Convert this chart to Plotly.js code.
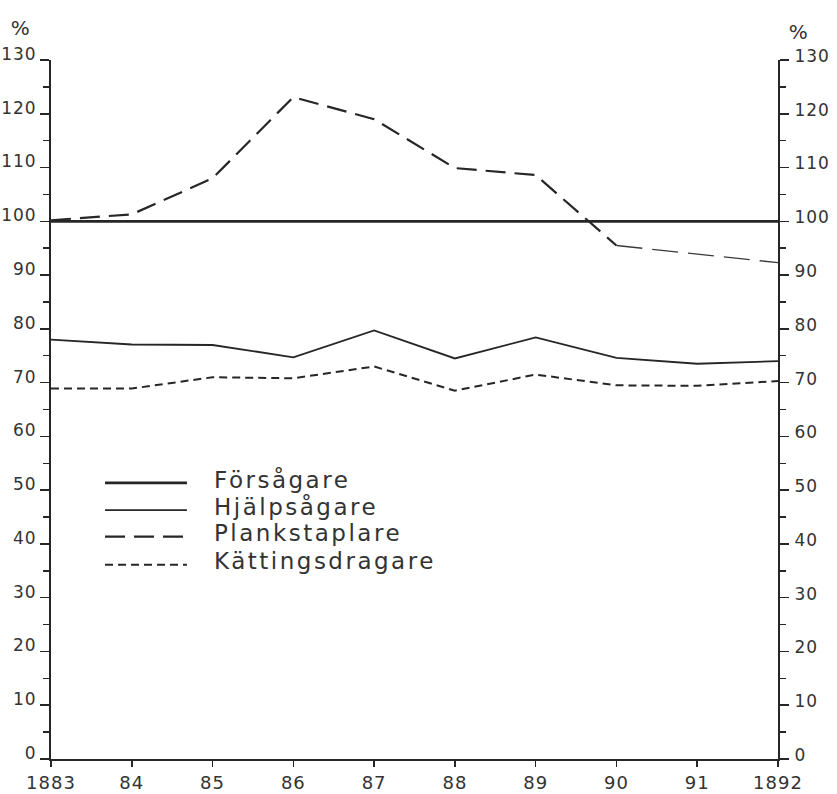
<!DOCTYPE html>
<html>
<head>
<meta charset="utf-8">
<script src="https://cdn.plot.ly/plotly-3.0.1.min.js"></script>
<style>
html,body{margin:0;padding:0;background:#fff;}
#chart{width:837px;height:794px;}
#chart .annotation-text{letter-spacing:2.5px;}
#chart .xtick text, #chart .ytick text, #chart .y2tick text{letter-spacing:1px;}
</style>
</head>
<body>
<div id="chart"></div>
<script>
const years = [1883, 1884, 1885, 1886, 1887, 1888, 1889, 1890, 1891, 1892];
const yearLabels = ["1883", "84", "85", "86", "87", "88", "89", "90", "91", "1892"];
const seriesNames = ["Försågare", "Hjälpsågare", "Plankstaplare", "Kättingsdragare"];
const forsagare = [100, 100, 100, 100, 100, 100, 100, 100, 100, 100];
const hjalpsagare = [78.0, 77.1, 77.0, 74.7, 79.7, 74.5, 78.4, 74.6, 73.5, 74.0];
const plankstaplare = [100.2, 101.3, 108.0, 123.1, 119.0, 109.9, 108.6, 95.5, 93.9, 92.3];
const kattingsdragare = [68.9, 68.9, 71.0, 70.8, 73.0, 68.5, 71.5, 69.5, 69.4, 70.3];
const yTicks = [0, 10, 20, 30, 40, 50, 60, 70, 80, 90, 100, 110, 120, 130];

const ink = "#262626";
const font = "DejaVu Sans, sans-serif";

const styles = [
  {width: 2.8, dash: "solid"},
  {width: 1.9, dash: "solid"},
  {width: 2.2, dash: "20px,9px"},
  {width: 2.0, dash: "8px,5px"}
];

const split = years.indexOf(1890);
const traces = [
  {x: years, y: forsagare, name: seriesNames[0], line: {color: ink, width: styles[0].width, dash: styles[0].dash}},
  {x: years, y: hjalpsagare, name: seriesNames[1], line: {color: ink, width: styles[1].width, dash: styles[1].dash}},
  {x: years.slice(0, split + 1), y: plankstaplare.slice(0, split + 1), name: seriesNames[2], line: {color: ink, width: styles[2].width, dash: styles[2].dash}},
  {x: years.slice(split), y: plankstaplare.slice(split), name: seriesNames[2], line: {color: "#3a3a3a", width: 1.3, dash: "26px,10px"}},
  {x: years, y: kattingsdragare, name: seriesNames[3], line: {color: ink, width: styles[3].width, dash: styles[3].dash}},
  {x: [years[0]], y: [null], yaxis: "y2", showlegend: false, hoverinfo: "skip"}
].map(t => Object.assign({type: "scatter", mode: "lines", showlegend: false, line: {}}, t));

const shapes = [];
const annotations = [];
const legY = [0.395, 0.356, 0.318, 0.278];
seriesNames.forEach((n, i) => {
  shapes.push({type: "line", xref: "paper", yref: "paper", x0: 0.0743, x1: 0.187, y0: legY[i], y1: legY[i],
    line: {color: ink, width: styles[i].width, dash: styles[i].dash}});
  annotations.push({xref: "paper", yref: "paper", x: 0.222, y: legY[i] + 0.005, xanchor: "left", yanchor: "middle", align: "left",
    text: n, showarrow: false, font: {family: font, size: 23, color: "#333"}});
});
annotations.push({xref: "paper", yref: "paper", x: -0.040, y: 1.046, xanchor: "center", yanchor: "middle", text: "%", showarrow: false, font: {family: font, size: 20, color: "#333"}});
annotations.push({xref: "paper", yref: "paper", x: 1.030, y: 1.040, xanchor: "center", yanchor: "middle", text: "%", showarrow: false, font: {family: font, size: 20, color: "#333"}});

const yCommon = {
  range: [0, 130], tickvals: yTicks, ticktext: yTicks.map(String),
  ticks: "outside", ticklen: 9, tickwidth: 1.5, tickcolor: ink,
  showline: true, linecolor: ink, linewidth: 2, showgrid: false, zeroline: false,
  tickfont: {family: font, size: 17, color: "#333"},
  minor: {dtick: 5, tick0: 0, ticks: "outside", ticklen: 6, tickwidth: 1.5, tickcolor: ink, showgrid: false},
  fixedrange: true
};

const layout = {
  width: 837, height: 794,
  margin: {l: 51, r: 59, t: 60, b: 35},
  paper_bgcolor: "#fff", plot_bgcolor: "#fff",
  showlegend: false,
  xaxis: {
    range: [1883, 1892], tickvals: years, ticktext: yearLabels,
    ticks: "outside", ticklen: 6, tickwidth: 1.5, tickcolor: ink,
    showline: true, linecolor: ink, linewidth: 2, showgrid: false, zeroline: false,
    tickfont: {family: font, size: 18, color: "#333"}, fixedrange: true, automargin: false
  },
  yaxis: Object.assign({}, yCommon, {side: "left", ticklabelstandoff: 0, ticklabelshift: -6, automargin: false}),
  yaxis2: Object.assign({}, yCommon, {side: "right", overlaying: "y", ticklabelstandoff: 2, ticklabelshift: -4, automargin: false}),
  shapes: shapes,
  annotations: annotations
};

Plotly.newPlot("chart", traces, layout, {displayModeBar: false, staticPlot: true});
</script>
</body>
</html>
